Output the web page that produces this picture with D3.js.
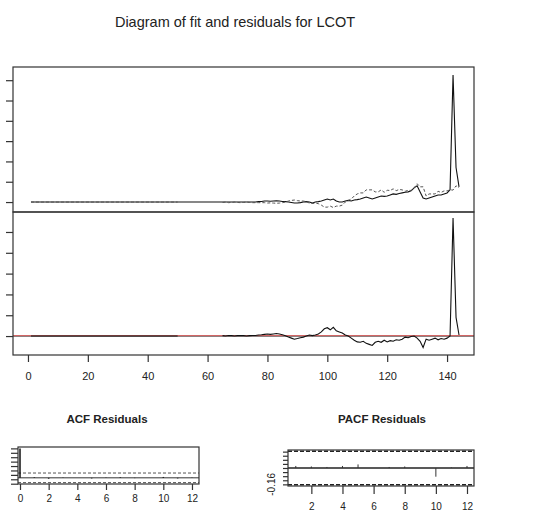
<!DOCTYPE html>
<html>
<head>
  <meta charset="utf-8">
  <script src="https://cdn.jsdelivr.net/npm/d3@7"></script>
  <style>
    body { margin: 0; background: #fff; }
    text { font-family: "Liberation Sans", Arial, sans-serif; fill: #222; }
    .frame { fill: none; stroke: #333; stroke-width: 1.2; }
    .tick line { stroke: #333; }
  </style>
</head>
<body>
<div id="chart"></div>
<script>
// series, t = 1..144 (null = no fitted value)
var actual = [
  0,0,0,0,0,0,0,0,0,0, 0,0,0,0,0,0,0,0,0,0, 0,0,0,0,0,0,0,0,0,0,
  0,0,0,0,0,0,0,0,0,0, 0,0,0,0,0,0,0,0,0,0, 0,0,0,0,0,0,0,0,0,0,
  0,0,0,0,0,0,0,0,0,0, 0,0,0,0,0,
  0.0,0.02,0.03,0.05,0.05,0.04,
  0.05,0.06,0.05,0.03,0.02,0.0,-0.02,
  -0.05,-0.05,-0.03,0.0,0.02,0.0,-0.05,
  0.0,0.02,0.05,0.1,0.15,0.1,0.15,0.05,0.0,
  0.0,0.05,0.08,0.05,0.1,0.12,0.15,
  0.2,0.25,0.2,0.15,0.2,0.25,0.3,0.28,0.3,
  0.35,0.4,0.38,0.42,0.45,0.48,0.5,0.55,0.7,0.8,
  0.5,0.2,0.15,0.2,0.25,0.3,0.35,0.35,0.4,0.45,0.6,
  6.26,1.7,0.75
];
var fitted = [
  0,0,0,0,0,0,0,0,0,0, 0,0,0,0,0,0,0,0,0,0, 0,0,0,0,0,0,0,0,0,0,
  0,0,0,0,0,0,0,0,0,0, 0,0,0,0,0,0,0,0,0,0,
  null,null,null,null,null,null,null,null,null,null,null,null,null,null,
  -0.02,0,-0.03,-0.02,0,-0.02,-0.03,-0.02,0,-0.02,-0.03,
  -0.03,-0.03,-0.03,-0.03,-0.05,-0.04,
  -0.05,-0.06,-0.05,-0.03,0.0,0.05,0.08,
  0.1,0.07,0.05,0.05,0.02,-0.05,-0.07,
  -0.05,-0.08,-0.15,-0.25,-0.25,-0.2,-0.27,-0.2,-0.2,
  -0.15,0.0,0.08,0.15,0.3,0.4,0.45,
  0.45,0.6,0.6,0.6,0.5,0.5,0.6,0.48,0.58,
  0.57,0.65,0.56,0.62,0.6,0.53,0.58,0.57,0.7,0.9,
  0.75,0.75,0.3,0.4,0.4,0.4,0.53,0.47,0.55,0.55,0.6,
  0.59,0.8,0.7
];
var residuals = [
  0,0,0,0,0,0,0,0,0,0, 0,0,0,0,0,0,0,0,0,0, 0,0,0,0,0,0,0,0,0,0,
  0,0,0,0,0,0,0,0,0,0, 0,0,0,0,0,0,0,0,0,0,
  null,null,null,null,null,null,null,null,null,null,null,null,null,null,
  0.02,0.0,0.03,0.02,0.0,0.02,0.03,0.02,0.0,0.02,0.03,
  0.03,0.05,0.06,0.08,0.1,0.08,
  0.1,0.12,0.1,0.06,0.02,-0.05,-0.1,
  -0.15,-0.12,-0.08,-0.05,0.0,0.05,0.02,
  0.05,0.1,0.2,0.35,0.4,0.3,0.42,0.25,0.2,
  0.15,0.05,0.0,-0.1,-0.2,-0.28,-0.3,
  -0.25,-0.35,-0.4,-0.45,-0.3,-0.25,-0.3,-0.2,-0.28,
  -0.22,-0.25,-0.18,-0.2,-0.15,-0.05,-0.08,-0.02,0.0,-0.1,
  -0.25,-0.55,-0.15,-0.2,-0.15,-0.1,-0.18,-0.12,-0.15,-0.1,0.0,
  5.67,0.9,0.05
];

var acfLags = [0,1,2,3,4,5,6,7,8,9,10,11,12];
var acfValues = [1,0.02,-0.03,0.01,0.0,-0.02,0.01,0.02,-0.01,0.0,0.03,-0.02,0.01];
var pacfLags = [1,2,3,4,5,6,7,8,9,10,11,12];
var pacfValues = [0.02,0.015,0.01,0.02,0.035,0.0,0.01,0.015,0.0,-0.085,0.005,0.02];
var ciBound = 0.163;

var timeTicks = [0,20,40,60,80,100,120,140];
var fitTicks = [0,1,2,3,4,5,6];
var residTicks = [0,1,2,3,4,5];
var acfXTicks = [0,2,4,6,8,10,12];
var acfYTicks = [-0.2,-0.05,0.1,0.25,0.4,0.55,0.7,0.85,1.0];
var pacfXTicks = [2,4,6,8,10,12];
var pacfYTicks = [-0.16,-0.12,-0.08,-0.04,0,0.04,0.08,0.12,0.16];
var pacfYLabel = -0.16;

var svg = d3.select("#chart").append("svg")
  .attr("width", 541).attr("height", 517);
svg.append("rect").attr("width", 541).attr("height", 517).attr("fill", "#fff");

var tIdx = actual.map(function (d, i) { return i + 1; });

// scales
var x = d3.scaleLinear().domain([-5, 149]).range([13, 474]);
var yTop = d3.scaleLinear().domain([-0.49, 6.65]).range([212, 67]);
var yBot = d3.scaleLinear().domain([-0.91, 5.96]).range([355, 212]);

function frame(g, xs, ys) {
  var xr = xs.range(), yr = ys.range();
  g.append("rect").attr("class", "frame")
    .attr("x", xr[0]).attr("y", yr[1])
    .attr("width", xr[1] - xr[0]).attr("height", yr[0] - yr[1]);
}
function cleanAxis(g) {
  g.select(".domain").remove();
  g.selectAll(".tick line").attr("stroke", "#333").attr("stroke-width", 1.2);
}

function lineFor(ys, vals) {
  return d3.line()
    .defined(function (d, i) { return vals[i] != null; })
    .x(function (d, i) { return x(tIdx[i]); })
    .y(function (d, i) { return ys(vals[i]); });
}

svg.append("text")
  .attr("x", 235).attr("y", 27)
  .attr("text-anchor", "middle")
  .style("font-size", "14.5px")
  .attr("fill", "#333")
  .text("Diagram of fit and residuals for LCOT");

// top panel: actual vs fitted
var fitPanel = svg.append("g");
fitPanel.append("path").datum(actual)
  .attr("d", lineFor(yTop, actual))
  .attr("fill", "none").attr("stroke", "#111").attr("stroke-width", 1.1);
fitPanel.append("path").datum(fitted)
  .attr("d", lineFor(yTop, fitted))
  .attr("fill", "none").attr("stroke", "#555").attr("stroke-width", 1)
  .attr("stroke-dasharray", "3,2");
frame(fitPanel, x, yTop);
fitPanel.append("g").attr("transform", "translate(13,0)")
  .call(d3.axisLeft(yTop).tickValues(fitTicks).tickSize(7).tickFormat(""))
  .call(cleanAxis);

// bottom panel: residuals
var resPanel = svg.append("g");
resPanel.append("line")
  .attr("x1", x.range()[0]).attr("x2", x.range()[1])
  .attr("y1", yBot(0)).attr("y2", yBot(0))
  .attr("stroke", "#222");
var meanRes = d3.mean(residuals.filter(function (d) { return d != null; }));
resPanel.append("line")
  .attr("x1", x.range()[0]).attr("x2", x.range()[1])
  .attr("y1", yBot(meanRes)).attr("y2", yBot(meanRes))
  .attr("stroke", "#d9605f");
resPanel.append("path").datum(residuals)
  .attr("d", lineFor(yBot, residuals))
  .attr("fill", "none").attr("stroke", "#111").attr("stroke-width", 1.1);
frame(resPanel, x, yBot);
resPanel.append("g").attr("transform", "translate(13,0)")
  .call(d3.axisLeft(yBot).tickValues(residTicks).tickSize(7).tickFormat(""))
  .call(cleanAxis);
resPanel.append("g").attr("transform", "translate(0,355)")
  .call(d3.axisBottom(x).tickValues(timeTicks).tickSize(7).tickPadding(10))
  .call(cleanAxis)
  .selectAll("text").style("font-size", "11px").attr("fill", "#222");

// ACF of residuals
var xA = d3.scaleLinear().domain([-0.14, 12.49]).range([18, 199]);
var yA = d3.scaleLinear().domain([-0.21, 1.047]).range([484, 447]);
var acfPanel = svg.append("g");
acfPanel.append("text")
  .attr("x", 107).attr("y", 423).attr("text-anchor", "middle")
  .style("font-size", "11.5px").style("font-weight", "bold")
  .text("ACF Residuals");
acfPanel.append("line")
  .attr("x1", xA.range()[0]).attr("x2", xA.range()[1])
  .attr("y1", yA(0)).attr("y2", yA(0)).attr("stroke", "#333");
[ciBound, -ciBound].forEach(function (c) {
  acfPanel.append("line")
    .attr("x1", xA.range()[0]).attr("x2", xA.range()[1])
    .attr("y1", yA(c)).attr("y2", yA(c))
    .attr("stroke", "#555").attr("stroke-dasharray", "3,2");
});
acfPanel.selectAll(".bar").data(acfValues).enter().append("line")
  .attr("x1", function (d, i) { return xA(acfLags[i]); })
  .attr("x2", function (d, i) { return xA(acfLags[i]); })
  .attr("y1", yA(0))
  .attr("y2", function (d) { return yA(d); })
  .attr("stroke", "#111").attr("stroke-width", 1.5);
frame(acfPanel, xA, yA);
acfPanel.append("g").attr("transform", "translate(18,0)")
  .call(d3.axisLeft(yA).tickValues(acfYTicks).tickSize(7).tickFormat(""))
  .call(cleanAxis);
acfPanel.append("g").attr("transform", "translate(0,484)")
  .call(d3.axisBottom(xA).tickValues(acfXTicks).tickSize(6).tickPadding(5))
  .call(cleanAxis)
  .selectAll("text").style("font-size", "10px").attr("fill", "#222");

// PACF of residuals
var xP = d3.scaleLinear().domain([0.5, 12.45]).range([288, 474]);
var yP = d3.scaleLinear().domain([-0.176, 0.176]).range([486, 450]);
var pacfPanel = svg.append("g");
pacfPanel.append("text")
  .attr("x", 382).attr("y", 423).attr("text-anchor", "middle")
  .style("font-size", "11.5px").style("font-weight", "bold")
  .text("PACF Residuals");
pacfPanel.append("line")
  .attr("x1", xP.range()[0]).attr("x2", xP.range()[1])
  .attr("y1", yP(0)).attr("y2", yP(0)).attr("stroke", "#222").attr("stroke-width", 1.3);
[ciBound, -ciBound].forEach(function (c) {
  pacfPanel.append("line")
    .attr("x1", xP.range()[0]).attr("x2", xP.range()[1])
    .attr("y1", yP(c)).attr("y2", yP(c))
    .attr("stroke", "#222").attr("stroke-width", 1.5).attr("stroke-dasharray", "4,2");
});
pacfPanel.selectAll(".bar").data(pacfValues).enter().append("line")
  .attr("x1", function (d, i) { return xP(pacfLags[i]); })
  .attr("x2", function (d, i) { return xP(pacfLags[i]); })
  .attr("y1", yP(0))
  .attr("y2", function (d) { return yP(d); })
  .attr("stroke", "#333").attr("stroke-width", 1);
frame(pacfPanel, xP, yP);
pacfPanel.append("g").attr("transform", "translate(288,0)")
  .call(d3.axisLeft(yP).tickValues(pacfYTicks).tickSize(5).tickFormat(""))
  .call(cleanAxis);
pacfPanel.append("text")
  .attr("transform", "translate(275," + yP(pacfYLabel) + ") rotate(-90)")
  .attr("text-anchor", "middle")
  .style("font-size", "10px")
  .text(d3.format(".2f")(pacfYLabel).replace("−", "-"));
pacfPanel.append("g").attr("transform", "translate(0,486)")
  .call(d3.axisBottom(xP).tickValues(pacfXTicks).tickSize(8).tickPadding(9))
  .call(cleanAxis)
  .selectAll("text").style("font-size", "10px").attr("fill", "#222");
</script>
</body>
</html>
